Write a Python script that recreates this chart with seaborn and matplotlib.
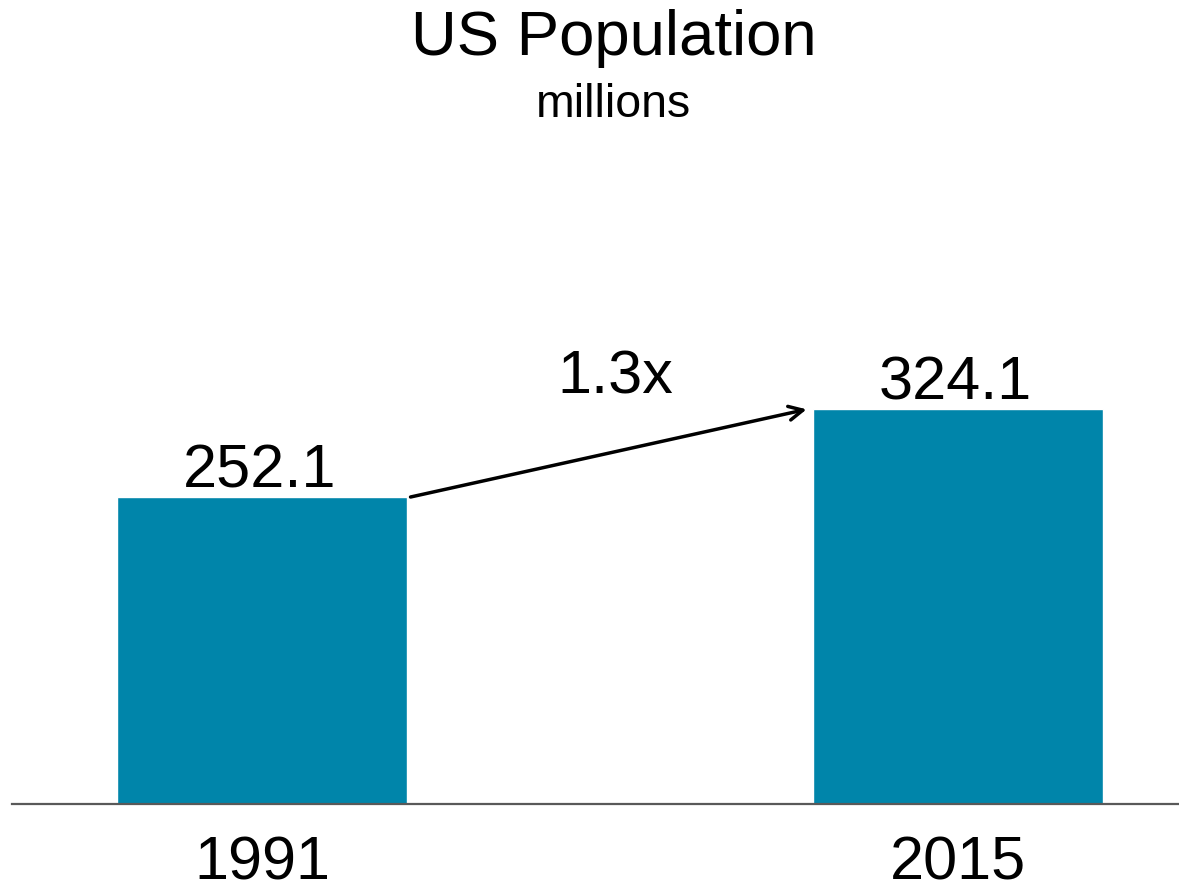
import matplotlib
matplotlib.use("Agg")
import matplotlib.pyplot as plt
import seaborn as sns
import pandas as pd

# data
years = ["1991", "2015"]
population = [252.1, 324.1]
growth_label = "1.3x"

BAR_COLOR = "#0085AA"
BAR_WIDTH = 0.417

sns.set_style("white")
plt.rcParams["font.family"] = ["Liberation Sans", "DejaVu Sans"]

df = pd.DataFrame({"Year": years, "Population": population})

fig = plt.figure(figsize=(11.79, 8.91), dpi=100)
ax = fig.add_axes([0.0102, 0.0976, 0.9898, 0.7340])

sns.barplot(data=df, x="Year", y="Population", ax=ax,
            color=BAR_COLOR, width=BAR_WIDTH, saturation=1)

ax.set_xlim(-0.359, 1.3175)
ax.set_ylim(0, 537)

# value labels above bars
for i, v in enumerate(population):
    ax.annotate(f"{v:.1f}", xy=(i, v), xytext=(-2, 7), textcoords="offset points",
                ha="center", va="baseline", fontsize=44, color="black")

# growth arrow between bar tops
x0 = 0 + BAR_WIDTH / 2
x1 = 1 - BAR_WIDTH / 2
ax.annotate("", xy=(x1 - 0.009, population[1]), xytext=(x0 + 0.005, population[0]),
            arrowprops=dict(arrowstyle="->,head_length=1.0,head_width=0.5",
                            color="black", lw=2.5, shrinkA=0, shrinkB=0))
ax.text((x0 + x1) / 2 + 0.008, population[1] + 13, growth_label,
        ha="center", va="baseline", fontsize=44, color="black")

# axes styling
for side in ["top", "right", "left"]:
    ax.spines[side].set_visible(False)
ax.spines["bottom"].set_color("#595959")
ax.spines["bottom"].set_linewidth(1.6)
ax.spines["bottom"].set_zorder(5)
ax.set_yticks([])
ax.set_xlabel("")
ax.set_ylabel("")
ax.tick_params(axis="x", length=0, pad=23, labelsize=44, labelcolor="black")

fig.text(0.5204, 0.938, "US Population", ha="center", va="baseline",
         fontsize=45.7, color="black")
fig.text(0.5204, 0.869, "millions", ha="center", va="baseline",
         fontsize=33.5, color="black")

fig.savefig("out.png", dpi=100, facecolor="white")
